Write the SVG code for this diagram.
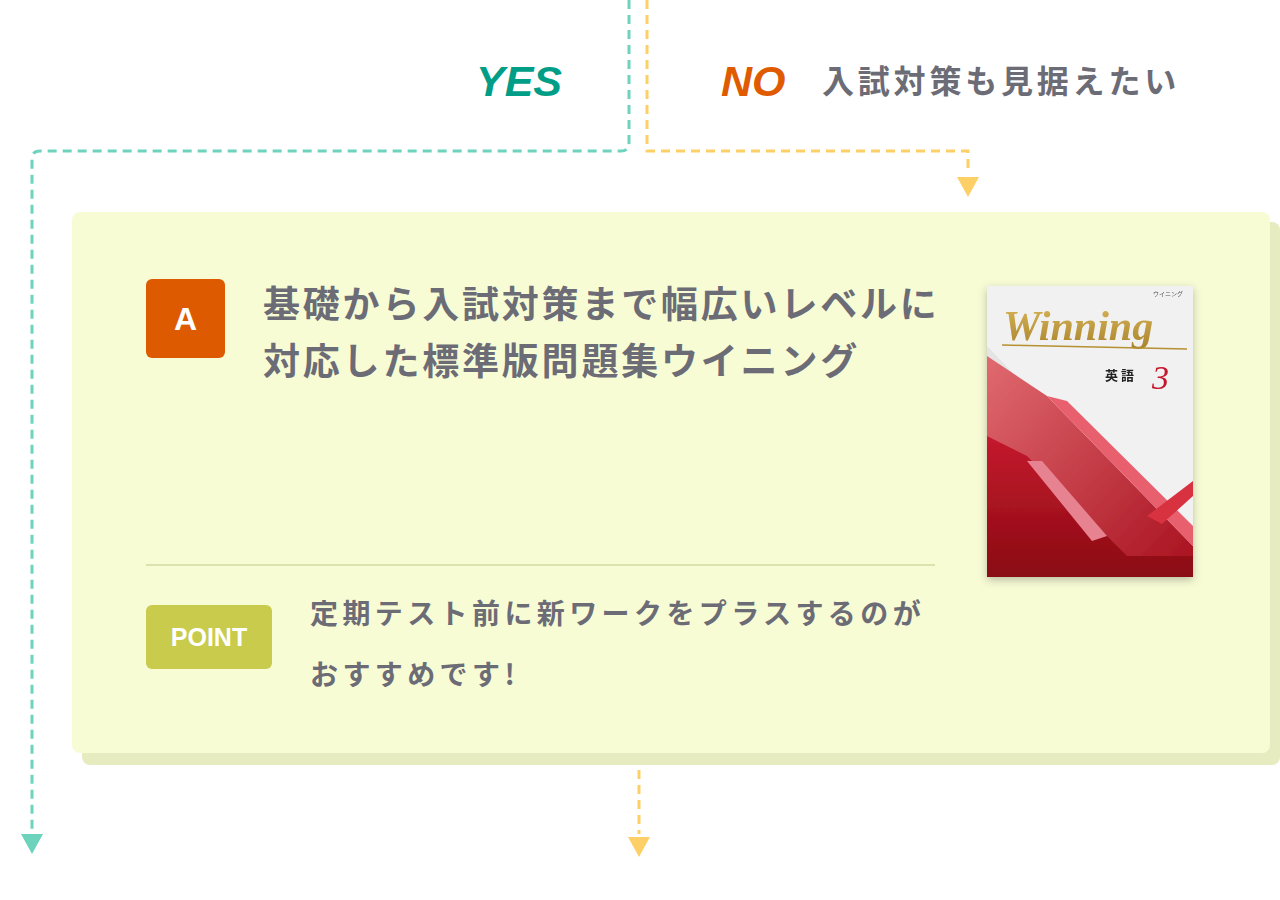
<svg xmlns="http://www.w3.org/2000/svg" width="1280" height="900" viewBox="0 0 1280 900">
<style>
.jp{font-family:"Noto Sans CJK JP","Noto Sans",sans-serif;font-weight:bold;fill:#6c6c76}
.lat{font-family:"Liberation Sans",Arial,sans-serif;font-weight:bold;font-style:italic}
.teal{fill:none;stroke:#6dd3bd;stroke-width:3;stroke-dasharray:9 6}
.yel{fill:none;stroke:#fdd067;stroke-width:3;stroke-dasharray:9 6}
</style>
<defs>
<linearGradient id="red" x1="0" y1="0" x2="1" y2="1"><stop offset="0" stop-color="#e06a70"/><stop offset="1" stop-color="#a8101e"/></linearGradient>
<linearGradient id="dark" x1="0" y1="0" x2="0" y2="1"><stop offset="0" stop-color="#c51a2e"/><stop offset="1" stop-color="#8a0a12"/></linearGradient>
<linearGradient id="gold" x1="0" y1="0" x2="0" y2="1"><stop offset="0" stop-color="#d9b559"/><stop offset="1" stop-color="#a9842d"/></linearGradient>
<filter id="sh" x="-10%" y="-10%" width="130%" height="130%"><feDropShadow dx="0" dy="3" stdDeviation="4" flood-color="#000" flood-opacity="0.25"/></filter>
</defs>
<g id="connectors">
<path class="teal" d="M629 0 V143 Q629 151 621 151 H40 Q32 151 32 159 V832"/>
<polygon points="21,834 43,834 32,854" fill="#6dd3bd"/>
<path class="yel" d="M647 0 V151 H968 V172"/>
<polygon points="957,177 979,177 968,197" fill="#fdd067"/>
<path class="yel" d="M639 755 V834"/>
<polygon points="628,837 650,837 639,857" fill="#fdd067"/>
</g>
<g id="labels">
<text class="lat" x="476" y="96" font-size="43" fill="#009e87">YES</text>
<text class="lat" x="721" y="96" font-size="43" fill="#e05a00">NO</text>
<text class="jp" x="822" y="93" font-size="32" letter-spacing="3.8">入試対策も見据えたい</text>
</g>
<g id="card">
<rect x="82" y="222" width="1198" height="543" rx="8" fill="#e7ecc0"/>
<rect x="72" y="212" width="1198" height="541" rx="8" fill="#f8fcd5"/>
<rect x="146" y="279" width="79" height="79" rx="6" fill="#dd5a00"/>
<text x="185.5" y="330" text-anchor="middle" font-family="'Liberation Sans',Arial,sans-serif" font-weight="bold" font-size="32" fill="#fff">A</text>
<text class="jp" x="263" y="318" font-size="37" letter-spacing="2.8">基礎から入試対策まで幅広いレベルに</text>
<text class="jp" x="263" y="375" font-size="37" letter-spacing="2.8">対応した標準版問題集ウイニング</text>
<line x1="146" y1="565" x2="935" y2="565" stroke="#dce2ae" stroke-width="2"/>
<rect x="146" y="605" width="126" height="64" rx="6" fill="#c8cb4c"/>
<text x="209" y="646" text-anchor="middle" font-family="'Liberation Sans',Arial,sans-serif" font-weight="bold" font-size="25" fill="#fff">POINT</text>
<text class="jp" x="310" y="624" font-size="28" letter-spacing="4.4">定期テスト前に新ワークをプラスするのが</text>
<text class="jp" x="310" y="685" font-size="28" letter-spacing="4.4">おすすめです!</text>
</g>
<g id="book" filter="url(#sh)">
<svg x="987" y="286" width="206" height="291" viewBox="0 0 206 291">
<rect width="206" height="291" fill="#f1f1f1"/>
<polygon points="0,60 0,291 206,291 206,275" fill="#e4e4e4"/>
<polygon points="0,70 0,160 150,291 206,291 206,260 60,110" fill="url(#red)"/>
<polygon points="0,150 0,291 206,291 206,270 140,270 40,170" fill="url(#dark)"/>
<polygon points="60,110 80,115 206,240 206,260" fill="#e8606e"/>
<polygon points="40,175 55,175 120,250 105,255" fill="#e78290"/>
<polygon points="160,230 206,195 206,210 175,238" fill="#d83240"/>
<text x="16" y="54" font-family="'Liberation Serif',serif" font-style="italic" font-weight="bold" font-size="42" fill="url(#gold)">Winning</text>
<line x1="15" y1="59" x2="200" y2="63" stroke="#b69030" stroke-width="1.5"/>
<text x="166" y="10" font-family="'Noto Sans CJK JP',sans-serif" font-size="6" fill="#555">ウイニング</text>
<text x="118" y="94" font-family="'Noto Sans CJK JP',sans-serif" font-weight="bold" font-size="13" fill="#222">英 語</text>
<text x="165" y="103" font-family="'Liberation Serif',serif" font-style="italic" font-size="34" fill="#c4182c">3</text>
</svg>
</g>
</svg>
